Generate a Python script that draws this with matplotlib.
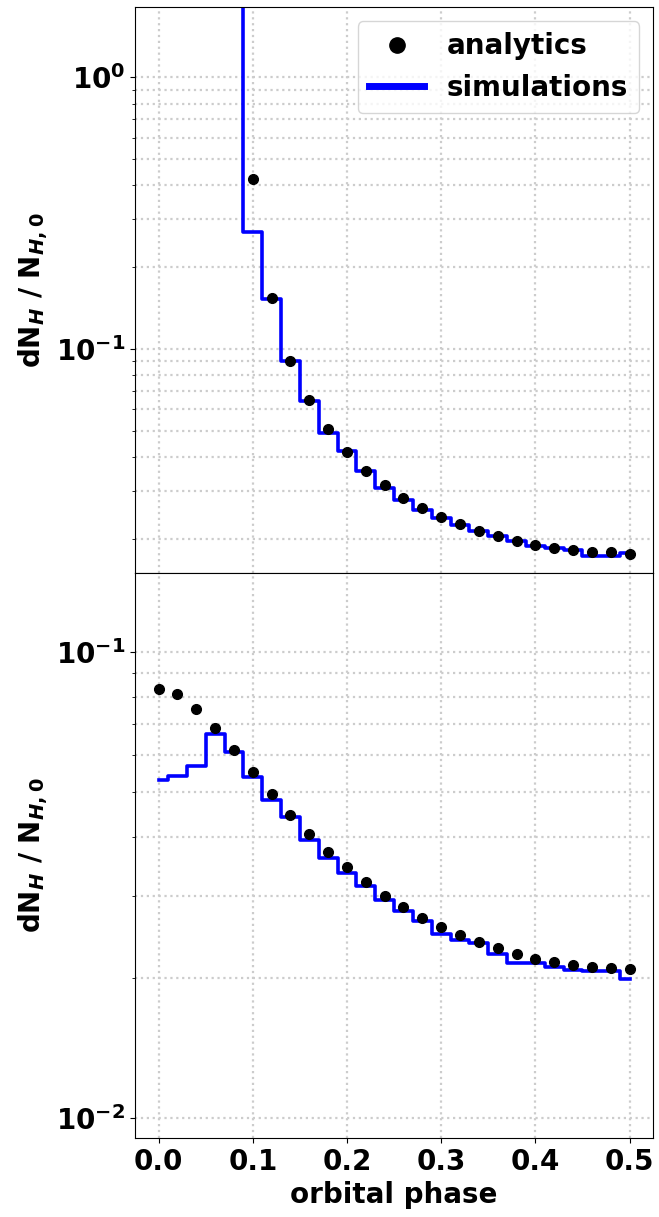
import matplotlib
matplotlib.use("Agg")
import matplotlib.pyplot as plt
from matplotlib.lines import Line2D

plt.rcParams['font.family'] = ['DejaVu Sans']
plt.rcParams['font.weight'] = 'bold'
plt.rcParams['font.size'] = 20
plt.rcParams['mathtext.fontset'] = 'custom'
plt.rcParams['mathtext.rm'] = 'DejaVu Sans:bold'
plt.rcParams['mathtext.it'] = 'DejaVu Sans:italic:bold'
plt.rcParams['mathtext.bf'] = 'DejaVu Sans:bold'
plt.rcParams['axes.labelweight'] = 'bold'

# ---- data ----
top_phase_an = [0.10, 0.12, 0.14, 0.16, 0.18, 0.20, 0.22, 0.24, 0.26, 0.28, 0.30,
                0.32, 0.34, 0.36, 0.38, 0.40, 0.42, 0.44, 0.46, 0.48, 0.50]
top_analytics = [0.423, 0.154, 0.0903, 0.0647, 0.0505, 0.0417, 0.0355, 0.0315, 0.0283,
                 0.0259, 0.0240, 0.0226, 0.0213, 0.0204, 0.0196, 0.0190, 0.0185,
                 0.0182, 0.0179, 0.0178, 0.0176]
top_phase_sim = [0.08, 0.10, 0.12, 0.14, 0.16, 0.18, 0.20, 0.22, 0.24, 0.26, 0.28, 0.30,
                 0.32, 0.34, 0.36, 0.38, 0.40, 0.42, 0.44, 0.46, 0.48, 0.50]
top_simulations = [5.0, 0.269, 0.152, 0.0903, 0.0640, 0.0490, 0.0419, 0.0356, 0.0307,
                   0.0278, 0.0255, 0.0238, 0.0224, 0.0214, 0.0204, 0.0196, 0.0188,
                   0.0185, 0.0182, 0.0173, 0.0173, 0.0177]

bot_phase = [0.00, 0.02, 0.04, 0.06, 0.08, 0.10, 0.12, 0.14, 0.16, 0.18, 0.20, 0.22, 0.24,
             0.26, 0.28, 0.30, 0.32, 0.34, 0.36, 0.38, 0.40, 0.42, 0.44, 0.46, 0.48, 0.50]
bot_analytics = [0.0832, 0.0813, 0.0756, 0.0686, 0.0616, 0.0552, 0.0495, 0.0447, 0.0407,
                 0.0373, 0.0345, 0.0321, 0.0300, 0.0284, 0.0269, 0.0257, 0.0247, 0.0238,
                 0.0231, 0.0225, 0.0219, 0.0216, 0.0213, 0.0211, 0.0210, 0.0209]
bot_simulations = [0.0532, 0.0543, 0.0570, 0.0668, 0.0610, 0.0539, 0.0482, 0.0443, 0.0394,
                   0.0361, 0.0335, 0.0315, 0.0293, 0.0278, 0.0264, 0.0248, 0.0241, 0.0237,
                   0.0225, 0.0215, 0.0215, 0.0211, 0.0208, 0.0207, 0.0207, 0.0199]

xticks = [0.0, 0.1, 0.2, 0.3, 0.4, 0.5]

fig, (ax1, ax2) = plt.subplots(2, 1, sharex=True, figsize=(6.59, 12.17), dpi=100)
fig.subplots_adjust(left=0.205, right=0.991, top=0.994, bottom=0.065, hspace=0)

ylabel = r'dN$_H$ / N$_{H,0}$'

for ax, (xa, ya, xs, ys, ylim) in zip(
        [ax1, ax2],
        [(top_phase_an, top_analytics, top_phase_sim, top_simulations, (0.0150, 1.81)),
         (bot_phase, bot_analytics, bot_phase, bot_simulations, (0.00906, 0.148))]):
    ax.plot(xs, ys, drawstyle='steps-mid', color='blue', lw=2.6, zorder=2)
    ax.plot(xa, ya, 'o', color='black', ms=7, zorder=3)
    ax.set_yscale('log')
    ax.set_ylim(*ylim)
    ax.grid(True, which='both', axis='y', ls=':', color='0.8', lw=1.6)
    ax.grid(True, which='major', axis='x', ls=':', color='0.8', lw=1.6)
    ax.set_ylabel(ylabel, fontsize=20, fontweight='bold')
    for lab in ax.get_yticklabels() + ax.get_xticklabels():
        lab.set_fontweight('bold')

ax2.set_xlim(-0.025, 0.525)
ax2.set_xticks(xticks)
ax2.set_xticklabels([f'{t:.1f}' for t in xticks], fontweight='bold')
ax2.set_xlabel('orbital phase', fontsize=20, fontweight='bold')

handles = [Line2D([], [], marker='o', color='black', ls='none', ms=11),
           Line2D([], [], color='blue', lw=5)]
ax1.legend(handles, ['analytics', 'simulations'], loc='upper right',
           prop={'weight': 'bold', 'size': 20})

fig.savefig('out.png', dpi=100)
